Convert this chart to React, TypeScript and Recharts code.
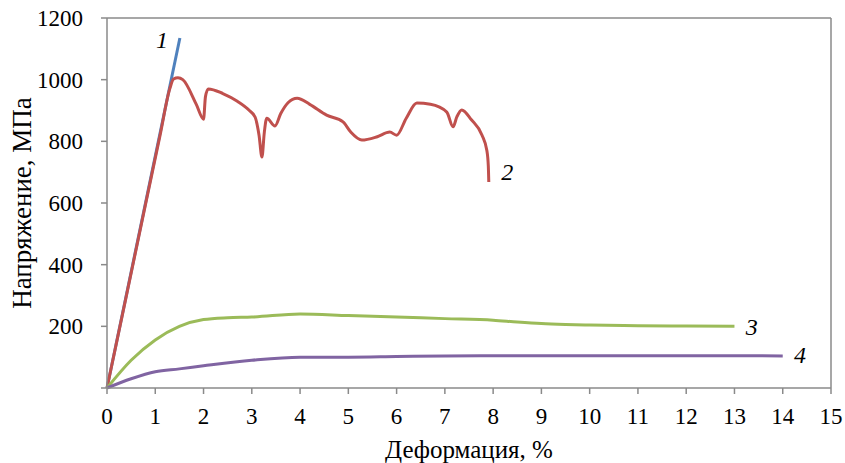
import {
  LineChart,
  Line,
  XAxis,
  YAxis,
  ReferenceLine,
  ReferenceDot,
} from 'recharts';

// Curve 1 – elastic line
const curve1 = [
  { x: 0, y: 0 },
  { x: 1.51, y: 1135 },
];

// Curve 2 – serrated flow
const curve2 = [
  { x: 0, y: 0 }, { x: 0.4, y: 298 }, { x: 0.8, y: 597 }, { x: 1.1, y: 820 },
  { x: 1.3, y: 970 }, { x: 1.38, y: 1002 }, { x: 1.47, y: 1006 }, { x: 1.57, y: 1000 },
  { x: 1.85, y: 920 }, { x: 2.0, y: 872 }, { x: 2.04, y: 945 }, { x: 2.1, y: 970 },
  { x: 2.4, y: 955 }, { x: 2.7, y: 930 }, { x: 2.95, y: 900 }, { x: 3.07, y: 878 },
  { x: 3.15, y: 820 }, { x: 3.21, y: 749 }, { x: 3.26, y: 830 }, { x: 3.31, y: 875 },
  { x: 3.48, y: 850 }, { x: 3.6, y: 890 }, { x: 3.75, y: 925 }, { x: 3.94, y: 940 },
  { x: 4.2, y: 920 }, { x: 4.55, y: 885 }, { x: 4.89, y: 863 }, { x: 5.05, y: 830 },
  { x: 5.28, y: 804 }, { x: 5.6, y: 815 }, { x: 5.86, y: 830 }, { x: 6.0, y: 820 },
  { x: 6.2, y: 875 }, { x: 6.42, y: 924 }, { x: 6.7, y: 920 }, { x: 7.04, y: 895 },
  { x: 7.17, y: 847 }, { x: 7.25, y: 880 }, { x: 7.35, y: 902 }, { x: 7.55, y: 870 },
  { x: 7.77, y: 820 }, { x: 7.87, y: 770 }, { x: 7.9, y: 720 }, { x: 7.91, y: 668 },
];

// Curve 3
const curve3 = [
  { x: 0, y: 0 }, { x: 0.5, y: 90 }, { x: 1, y: 156 }, { x: 1.5, y: 200 },
  { x: 2, y: 222 }, { x: 2.5, y: 228 }, { x: 3, y: 230 }, { x: 4, y: 240 },
  { x: 5, y: 235 }, { x: 6, y: 230 }, { x: 7, y: 225 }, { x: 8, y: 220 },
  { x: 8.5, y: 214 }, { x: 9, y: 209 }, { x: 9.5, y: 206 }, { x: 10, y: 204 },
  { x: 11, y: 202 }, { x: 12, y: 201 }, { x: 13, y: 200 },
];

// Curve 4
const curve4 = [
  { x: 0, y: 0 }, { x: 0.5, y: 30 }, { x: 1, y: 53 }, { x: 1.5, y: 62 },
  { x: 2, y: 72 }, { x: 3, y: 90 }, { x: 4, y: 100 }, { x: 5, y: 100 },
  { x: 6, y: 102 }, { x: 7, y: 104 }, { x: 8, y: 105 }, { x: 9, y: 105 },
  { x: 10, y: 105 }, { x: 11, y: 105 }, { x: 12, y: 105 }, { x: 13, y: 105 },
  { x: 14, y: 104 },
];

const xTicks = [0, 1, 2, 3, 4, 5, 6, 7, 8, 9, 10, 11, 12, 13, 14, 15];
const yTicks = [0, 200, 400, 600, 800, 1000, 1200];

const curveLabels = [
  { text: '1', x: 1.14, y: 1129 },
  { text: '2', x: 8.29, y: 700 },
  { text: '3', x: 13.36, y: 198 },
  { text: '4', x: 14.36, y: 107 },
];

const FONT = "'Liberation Serif', serif";
const AXIS = '#8a8a8a';

const XTick = ({ x, y, payload }: any) => (
  <text x={x} y={y} dy="0.71em" textAnchor="middle" fontFamily={FONT} fontSize={23} fill="#000">
    {payload.value}
  </text>
);

const YTick = ({ x, y, payload }: any) =>
  payload.value === 0 ? null : (
    <text x={x} y={y} dy="0.355em" textAnchor="end" fontFamily={FONT} fontSize={23} fill="#000">
      {payload.value}
    </text>
  );

const XTitle = ({ viewBox }: any) => (
  <text
    x={viewBox.x + viewBox.width / 2}
    y={viewBox.y + 61}
    textAnchor="middle"
    dominantBaseline="central"
    fontFamily={FONT}
    fontSize={25}
    fill="#000"
  >
    Деформация, %
  </text>
);

const YTitle = ({ viewBox }: any) => {
  const cx = 22;
  const cy = viewBox.y + viewBox.height / 2;
  return (
    <text
      x={cx}
      y={cy}
      transform={`rotate(-90, ${cx}, ${cy})`}
      textAnchor="middle"
      dominantBaseline="central"
      fontFamily={FONT}
      fontSize={27}
      fill="#000"
    >
      Напряжение, МПа
    </text>
  );
};

export default function App() {
  return (
    <div style={{ position: 'absolute', left: 0, top: 0, background: '#fff' }}>
      <LineChart width={845} height={463} margin={{ top: 18, right: 14, left: 0, bottom: 0 }}>
        <XAxis
          type="number"
          dataKey="x"
          domain={[0, 15]}
          ticks={xTicks}
          interval={0}
          stroke={AXIS}
          strokeWidth={1.5}
          tickSize={6}
          tickMargin={14}
          height={75}
          tick={<XTick />}
          label={<XTitle />}
        />
        <YAxis
          type="number"
          domain={[0, 1200]}
          ticks={yTicks}
          interval={0}
          width={107}
          stroke={AXIS}
          strokeWidth={1.5}
          tickSize={6}
          tickMargin={18}
          tick={<YTick />}
          label={<YTitle />}
        />
        <ReferenceLine y={1200} stroke={AXIS} strokeWidth={1.5} />
        <ReferenceLine x={15} stroke={AXIS} strokeWidth={1.5} />
        <Line data={curve1} dataKey="y" type="linear" stroke="#4F81BD" strokeWidth={3} dot={false} isAnimationActive={false} />
        <Line data={curve2} dataKey="y" type="monotone" stroke="#C0504D" strokeWidth={3} dot={false} isAnimationActive={false} />
        <Line data={curve3} dataKey="y" type="monotone" stroke="#9BBB59" strokeWidth={3} dot={false} isAnimationActive={false} />
        <Line data={curve4} dataKey="y" type="monotone" stroke="#8064A2" strokeWidth={3} dot={false} isAnimationActive={false} />
        {curveLabels.map((l) => (
          <ReferenceDot
            key={l.text}
            x={l.x}
            y={l.y}
            r={0}
            ifOverflow="visible"
            shape={(p: any) => (
              <text
                x={p.cx}
                y={p.cy}
                textAnchor="middle"
                dominantBaseline="central"
                fontSize={24}
                fontStyle="italic"
                fontFamily={FONT}
                fill="#000"
              >
                {l.text}
              </text>
            )}
          />
        ))}
      </LineChart>
    </div>
  );
}
